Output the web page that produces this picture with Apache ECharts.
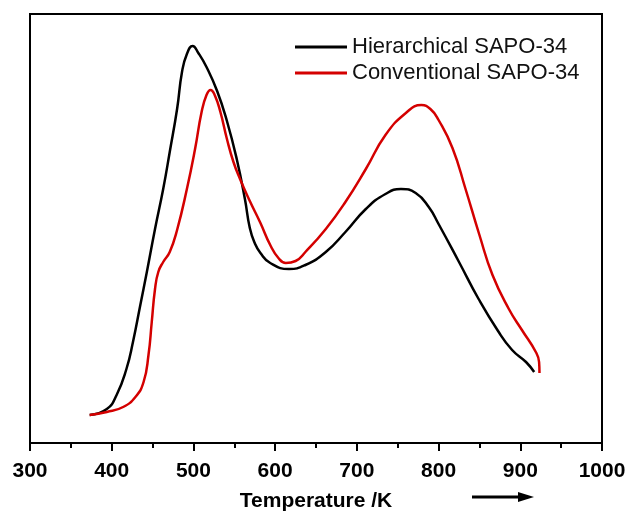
<!DOCTYPE html>
<html>
<head>
<meta charset="utf-8">
<style>
  html, body { margin: 0; padding: 0; background: #fff; }
  #chart { width: 631px; height: 517px; }
</style>
<script src="https://cdn.jsdelivr.net/npm/echarts@6/dist/echarts.min.js"></script>
</head>
<body>
<div id="chart"></div>
<script>
// temperatures (K) and signal (arbitrary units)
const hierTemp = [373, 394, 406, 418, 426, 435, 443, 453, 463, 471, 480, 486, 492, 499, 506, 516, 529, 541, 553, 563, 569, 575, 582, 594, 617, 637, 662, 686, 711, 735, 754, 772, 788, 800, 825, 849, 872, 890, 907, 917]
const hierVal  = [28, 34, 48, 74, 101, 138, 171, 214, 254, 291, 334, 371, 389, 397, 390, 376, 352, 322, 284, 244, 215, 200, 190, 180, 174, 178, 191, 211, 234, 249, 254, 250, 236, 219, 181, 144, 113, 93, 81, 71]

const convTemp = [373, 394, 414, 429, 439, 445, 449, 453, 457, 463, 471, 480, 492, 502, 510, 516, 521, 526, 533, 541, 549, 557, 569, 582, 594, 604, 613, 625, 637, 662, 686, 711, 735, 760, 779, 790, 800, 817, 833, 850, 866, 886, 902, 919, 923, 923.5]
const convVal  = [28, 31, 36, 46, 61, 88, 121, 154, 171, 181, 191, 213, 254, 294, 331, 348, 353, 348, 331, 304, 281, 264, 242, 220, 198, 185, 180, 182, 191, 214, 241, 274, 308, 330, 338, 334, 323, 295, 254, 208, 168, 134, 113, 91, 81, 70]

const seriesNames = ['Hierarchical SAPO-34', 'Conventional SAPO-34']
const xTicks = { min: 300, max: 1000, interval: 100 }

const font = "'Liberation Sans', Arial, sans-serif"
const chart = echarts.init(document.getElementById('chart'))

const pair = (xs, ys) => xs.map((x, i) => [x, ys[i]])

chart.setOption({
  animation: false,
  grid: {
    left: 30, right: 29, top: 14, bottom: 74,
    show: true, borderColor: '#000', borderWidth: 2
  },
  legend: {
    orient: 'vertical',
    left: 290,
    top: 31,
    itemWidth: 52,
    itemHeight: 3,
    itemGap: 4,
    icon: 'rect',
    textStyle: { fontFamily: font, fontSize: 22, color: '#111' },
    data: seriesNames
  },
  xAxis: {
    type: 'value',
    min: xTicks.min,
    max: xTicks.max,
    interval: xTicks.interval,
    name: 'Temperature /K',
    nameLocation: 'middle',
    nameGap: 48,
    nameTextStyle: { fontFamily: font, fontSize: 21, fontWeight: 'bold', color: '#000' },
    axisLine: { lineStyle: { color: '#000', width: 2 } },
    axisTick: { length: 8, lineStyle: { width: 2, color: '#000' } },
    minorTick: { show: true, splitNumber: 2, length: 5, lineStyle: { width: 2, color: '#000' } },
    axisLabel: {
      margin: 18,
      fontFamily: font, fontSize: 21, fontWeight: 'bold', color: '#000',
      formatter: v => String(v)
    },
    splitLine: { show: false }
  },
  yAxis: {
    type: 'value',
    min: 0,
    max: 429,
    axisLine: { show: true, lineStyle: { color: '#000', width: 2 } },
    axisTick: { show: false },
    axisLabel: { show: false },
    splitLine: { show: false }
  },
  graphic: [
    { type: 'line', shape: { x1: 472, y1: 497, x2: 521, y2: 497 }, style: { stroke: '#000', lineWidth: 3 } },
    { type: 'polygon', shape: { points: [[518, 492], [534, 497], [518, 502]] }, style: { fill: '#000' } }
  ],
  series: [
    {
      name: seriesNames[0],
      type: 'line',
      data: pair(hierTemp, hierVal),
      smooth: 0.5,
      symbol: 'none',
      lineStyle: { color: '#000', width: 2.5 },
      itemStyle: { color: '#000' }
    },
    {
      name: seriesNames[1],
      type: 'line',
      data: pair(convTemp, convVal),
      smooth: 0.5,
      symbol: 'none',
      lineStyle: { color: '#d40000', width: 2.5 },
      itemStyle: { color: '#d40000' }
    }
  ]
})
</script>
</body>
</html>
